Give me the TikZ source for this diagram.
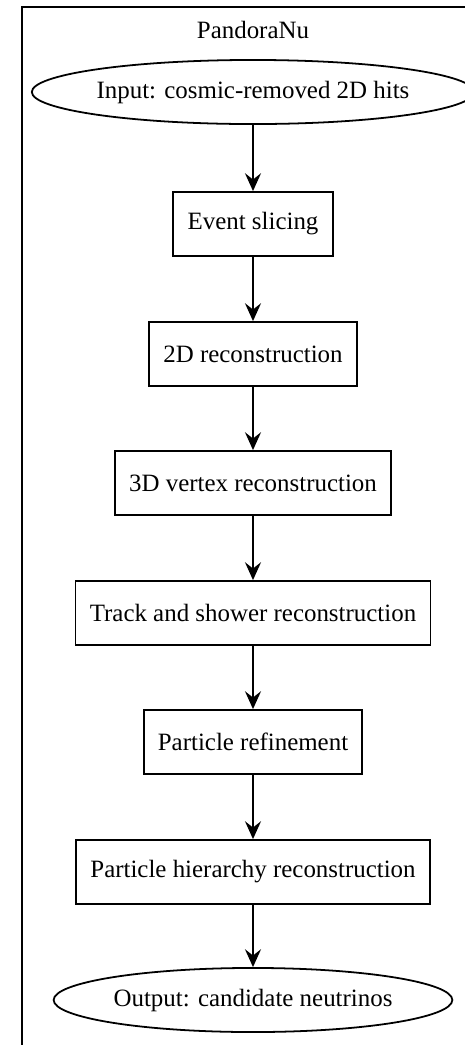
\documentclass[tikz,border=0pt]{standalone}
\usepackage{fontspec}
\setmainfont{Liberation Serif}
\usepackage{tikz}
\usetikzlibrary{shapes.geometric, arrows.meta, positioning}

\begin{document}
\begin{tikzpicture}[x=0.5618pt, y=-0.5618pt, line width=1pt,
    >={Stealth[length=10pt, width=9pt, inset=3.5pt]},
    every node/.style={font=\fontsize{14pt}{17pt}\selectfont},
    stage/.style={draw, rectangle, inner xsep=8pt, inner ysep=0pt, minimum height=36pt},
    terminal/.style={draw, ellipse, inner sep=0pt, minimum height=36pt}]
    \useasboundingbox (0,0) rectangle (465,1045);
    \clip (0,0) rectangle (465,1045);

    % cluster frame
    \draw (22,1050) |- (470,7);
    \node[anchor=base] (title) at (253,38) {PandoraNu};

    \node[terminal, minimum width=245pt] (input) at (253,92) {Input: cosmic-removed 2D hits};

    \node[stage] (slicing) at (253,224) {Event slicing};
    \node[stage] (reco2d) at (253,354) {2D reconstruction};
    \node[stage] (vertex) at (253,483) {3D vertex reconstruction};
    \node[stage] (trackshower) at (253,613) {Track and shower reconstruction};
    \node[stage] (refine) at (253,742) {Particle refinement};
    \node[stage] (hierarchy) at (253,872) {Particle hierarchy reconstruction};

    \node[terminal, minimum width=224pt] (output) at (253,1000) {Output: candidate neutrinos};

    \draw[->] (input) -- (slicing);
    \draw[->] (slicing) -- (reco2d);
    \draw[->] (reco2d) -- (vertex);
    \draw[->] (vertex) -- (trackshower);
    \draw[->] (trackshower) -- (refine);
    \draw[->] (refine) -- (hierarchy);
    \draw[->] (hierarchy) -- (output);
\end{tikzpicture}
\end{document}
